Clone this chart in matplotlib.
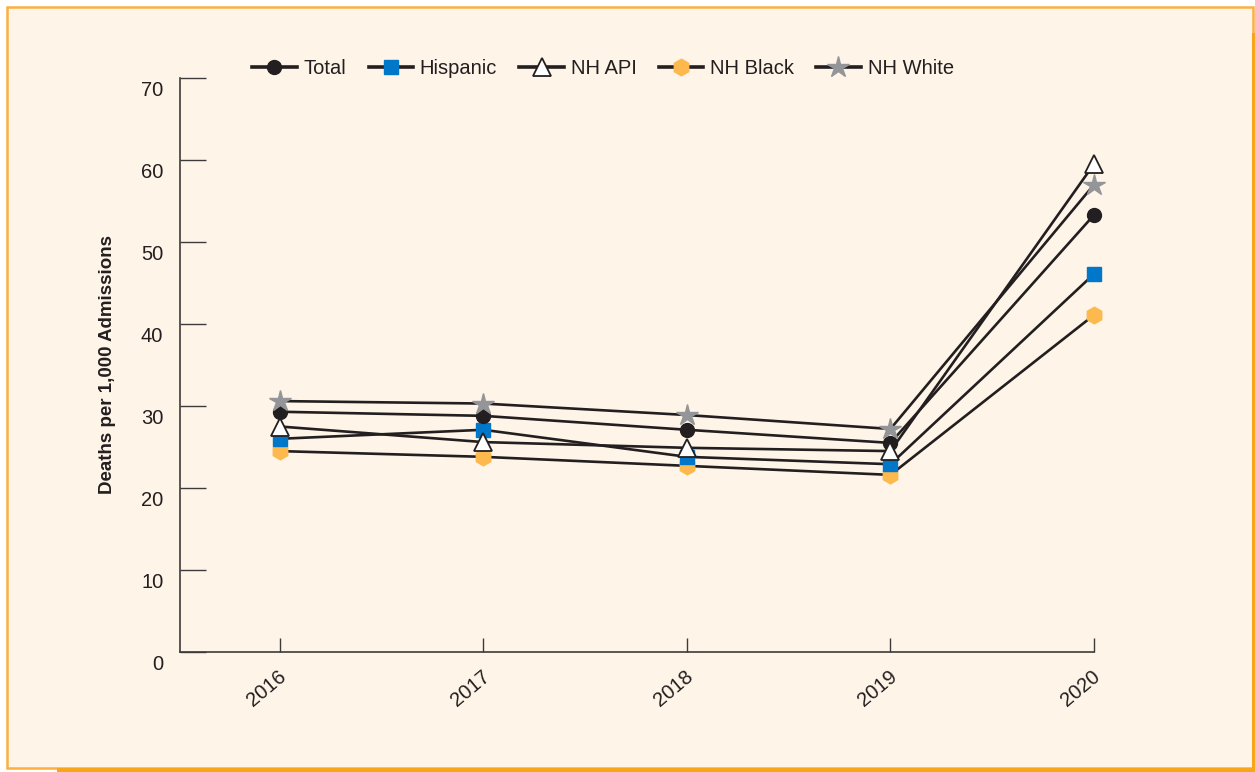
import matplotlib.pyplot as plt
import matplotlib.transforms as mtransforms
from matplotlib.patches import Rectangle

# data
years = [2016, 2017, 2018, 2019, 2020]
total = [29.3, 28.8, 27.1, 25.5, 53.3]
hispanic = [26.0, 27.1, 23.8, 22.9, 46.1]
nh_api = [27.5, 25.6, 24.9, 24.5, 59.5]
nh_black = [24.5, 23.8, 22.7, 21.6, 41.1]
nh_white = [30.6, 30.3, 28.9, 27.2, 57.0]
yticks = [0, 10, 20, 30, 40, 50, 60, 70]

plt.rcParams['font.family'] = ['Liberation Sans', 'DejaVu Sans']

bg = '#FEF4E8'
ink = '#231F20'

fig = plt.figure(figsize=(12.55, 7.72), dpi=100)
fig.patch.set_facecolor('white')

# cream panel with orange border (behind the axes)
fig.patches.append(Rectangle((7 / 1255, 4 / 772), 1246 / 1255, 761 / 772,
                             transform=fig.transFigure, facecolor=bg,
                             edgecolor='#FBB040', linewidth=1.8, zorder=-2))
fig.patches.append(Rectangle((57 / 1255, 0), 1198 / 1255, 4.5 / 772,
                             transform=fig.transFigure, facecolor='#F9A51A',
                             edgecolor='none', zorder=-1))
fig.patches.append(Rectangle((1251.5 / 1255, 0), 3.5 / 1255, 739 / 772,
                             transform=fig.transFigure, facecolor='#F9A51A',
                             edgecolor='none', zorder=-1))

ax = fig.add_axes([180 / 1255, 1 - 652 / 772, 914 / 1255, 574 / 772])
ax.set_facecolor('none')

lw = 1.9
ax.plot(years, nh_black, color=ink, lw=lw, marker='h', ms=12,
        mfc='#FDB94E', mec='#FDB94E', label='NH Black', clip_on=False)
ax.plot(years, hispanic, color=ink, lw=lw, marker='s', ms=10,
        mfc='#0077C8', mec='#0077C8', label='Hispanic', clip_on=False)
ax.plot(years, total, color=ink, lw=lw, marker='o', ms=10,
        mfc=ink, mec=ink, label='Total', clip_on=False)
ax.plot(years, nh_api, color=ink, lw=lw, marker='^', ms=13,
        mfc='white', mec=ink, mew=1.3, label='NH API', clip_on=False)
ax.plot(years, nh_white, color=ink, lw=lw, marker='*', ms=16,
        mfc='#939598', mec='#939598', label='NH White', clip_on=False)

ax.set_xlim(2015.51, 2020)
ax.set_ylim(0, 70)
ax.set_xticks(years)
ax.set_yticks(yticks)

for s in ['top', 'right']:
    ax.spines[s].set_visible(False)
for s in ['left', 'bottom']:
    ax.spines[s].set_color('#3d3a3b')
    ax.spines[s].set_linewidth(1.2)

ax.tick_params(axis='y', direction='in', length=19, width=1.0,
               color='#3d3a3b', pad=12, labelsize=14.5, labelcolor=ink)
ax.tick_params(axis='x', direction='in', length=10, width=1.0,
               color='#3d3a3b', pad=11, labelsize=14.5, labelcolor=ink)

off_y = mtransforms.ScaledTranslation(0, -0.10, fig.dpi_scale_trans)
for lab in ax.get_yticklabels():
    lab.set_transform(lab.get_transform() + off_y)

off_x = mtransforms.ScaledTranslation(0.10, 0, fig.dpi_scale_trans)
for lab in ax.get_xticklabels():
    lab.set_rotation(40)
    lab.set_ha('right')
    lab.set_transform(lab.get_transform() + off_x)

ax.set_ylabel('Deaths per 1,000 Admissions', fontsize=13.5,
              fontweight='bold', color=ink, labelpad=18)

handles, labels = ax.get_legend_handles_labels()
order = ['Total', 'Hispanic', 'NH API', 'NH Black', 'NH White']
hmap = dict(zip(labels, handles))
leg = fig.legend([hmap[k] for k in order], order, loc='center',
                 bbox_to_anchor=(603 / 1255, 1 - 69 / 772), ncol=5,
                 frameon=False, fontsize=14.5, handlelength=2.2,
                 handletextpad=0.35, columnspacing=1.1)
for t in leg.get_texts():
    t.set_color(ink)
for h in leg.legend_handles:
    h.set_linewidth(2.6)

fig.savefig('out.png', dpi=100, facecolor=fig.get_facecolor())
